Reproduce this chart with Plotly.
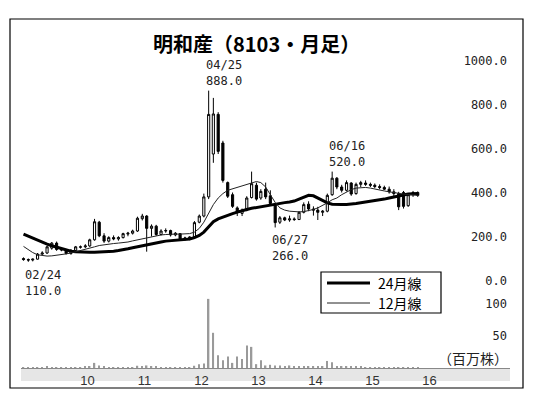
import pandas as pd
import plotly.graph_objects as go

months = pd.date_range("2009-01-01", periods=84, freq="MS")

open_ = [125, 120, 118, 122, 145, 150, 172, 195, 166, 162, 148, 162,
         176, 178, 182, 210, 290, 228, 204, 220, 214, 220, 236, 240,
         250, 306, 318, 262, 272, 234, 250, 252, 232, 238, 214, 218,
         222, 290, 318, 405, 600, 780, 650, 470, 415, 355, 330, 345,
         402, 458, 400, 440, 410, 368, 290, 310, 300, 305, 302, 335,
         372, 350, 345, 335, 340, 415, 490, 450, 435, 468, 420, 462,
         468, 462, 458, 452, 448, 440, 428, 420, 425, 365, 415, 425]
high = [130, 125, 125, 150, 158, 182, 200, 202, 172, 166, 168, 182,
        184, 190, 215, 305, 296, 240, 226, 230, 226, 242, 246, 256,
        315, 328, 322, 280, 278, 258, 262, 256, 245, 240, 224, 226,
        295, 325, 420, 888, 855, 790, 660, 475, 425, 362, 352, 408,
        520, 470, 440, 470, 435, 372, 318, 315, 320, 312, 340, 380,
        385, 362, 360, 345, 420, 520, 495, 460, 480, 472, 470, 478,
        480, 470, 466, 462, 456, 452, 440, 428, 432, 420, 432, 430]
low = [115, 110, 112, 120, 140, 146, 165, 160, 158, 143, 142, 158,
       170, 172, 178, 206, 222, 196, 198, 208, 206, 216, 226, 234,
       246, 298, 156, 225, 228, 230, 242, 225, 226, 205, 206, 208,
       218, 285, 312, 395, 560, 600, 470, 400, 355, 318, 318, 340,
       398, 388, 392, 395, 370, 266, 282, 295, 292, 296, 300, 330,
       340, 320, 300, 318, 335, 410, 440, 425, 430, 410, 415, 450,
       455, 450, 445, 440, 436, 420, 400, 345, 352, 360, 405, 405]
close = [120, 118, 122, 145, 150, 178, 195, 166, 164, 148, 162, 178,
         178, 182, 210, 292, 228, 204, 220, 214, 220, 238, 240, 250,
         308, 318, 262, 272, 234, 250, 252, 232, 240, 214, 218, 222,
         288, 318, 405, 780, 782, 612, 480, 408, 362, 335, 345, 400,
         465, 395, 430, 405, 375, 288, 310, 300, 305, 302, 335, 370,
         350, 345, 335, 340, 412, 490, 450, 435, 470, 418, 462, 470,
         462, 458, 452, 448, 440, 428, 420, 360, 362, 415, 425, 412]

ma24 = [236, 226, 216, 206, 198, 190, 183, 176, 169, 163, 158, 156,
        154, 153, 153, 153, 154, 154, 155, 158, 161, 164, 169, 174,
        179, 184, 188, 192, 196, 200, 204, 206, 208, 210, 211, 214,
        220, 230, 245, 268, 292, 305, 314, 322, 329, 336, 343, 348,
        353, 357, 361, 365, 370, 373, 376, 379, 382, 386, 395, 405,
        412, 410, 400, 388, 378, 372, 370, 370, 371, 372, 375, 378,
        381, 384, 387, 390, 395, 400, 405, 410, 414, 418, 419, 420]
ma12 = [180, 165, 152, 142, 138, 136, 137, 139, 142, 146, 150, 155,
        160, 166, 172, 178, 184, 188, 191, 193, 195, 197, 200, 205,
        210, 216, 220, 224, 228, 232, 234, 236, 236, 236, 236, 238,
        245, 262, 290, 330, 370, 400, 420, 435, 442, 448, 455, 462,
        470, 475, 470, 450, 415, 380, 355, 345, 340, 338, 337, 338,
        342, 348, 355, 365, 378, 392, 400, 415, 428, 438, 445, 448,
        448, 445, 440, 436, 432, 428, 424, 420, 418, 416, 414, 412]

volume = [1.5, 1.5, 1, 1.5, 1, 2, 1.5, 1, 1, 0.5, 0.5, 1,
          1, 2, 3, 8, 4, 2, 1.5, 1.5, 1, 1, 1, 1,
          3.5, 3, 4, 2, 2, 1.5, 1.5, 1, 1, 1, 1, 1.5,
          3.5, 6, 7, 108, 55, 20, 12, 18, 8, 18, 14, 35,
          33, 6, 12, 4, 5, 4, 4, 3, 4, 2, 2, 3,
          3, 2, 2, 3, 11, 9, 3, 2, 2, 2, 2, 2,
          1, 1, 1, 1, 1, 0.5, 1, 1, 1, 0.5, 0.5, 0.5]

year_ticks = ["2010-01-01", "2011-01-01", "2012-01-01", "2013-01-01",
              "2014-01-01", "2015-01-01", "2016-01-01"]
year_labels = ["10", "11", "12", "13", "14", "15", "16"]
price_ticks = [0, 200, 400, 600, 800, 1000]
price_labels = ["0.0", "200.0", "400.0", "600.0", "800.0", "1000.0"]
vol_ticks = [50, 100]
vol_labels = ["50", "100"]

title = "明和産（8103・月足）"
legend_names = ["24月線", "12月線"]
vol_unit = "（百万株）"

# extreme annotations: (month index, label date, value kind)
extremes = [(39, "04/25", "high"), (65, "06/16", "high"),
            (53, "06/27", "low"), (1, "02/24", "low")]

W, H = 545, 405
L, R, T, B = 21, 510, 30, 381
PW, PH = R - L, B - T

def py(px):
    return (B - px) / PH

def pxx(px):
    return (px - L) / PW

mono = "DejaVu Sans Mono"
cjk = "Noto Sans CJK JP"

fig = go.Figure()
fig.add_trace(go.Bar(x=months, y=volume, xaxis="x", yaxis="y2",
                     marker=dict(color="#9a9a9a", line=dict(width=0)),
                     width=86400000 * 9, showlegend=False, hoverinfo="skip"))
fig.add_trace(go.Scatter(x=months, y=ma24, mode="lines", name=legend_names[0],
                         line=dict(color="black", width=3), xaxis="x", yaxis="y",
                         showlegend=False))
fig.add_trace(go.Scatter(x=months, y=ma12, mode="lines", name=legend_names[1],
                         line=dict(color="#222222", width=1), xaxis="x", yaxis="y",
                         showlegend=False))
fig.add_trace(go.Candlestick(x=months, open=open_, high=high, low=low, close=close,
                             xaxis="x", yaxis="y", showlegend=False,
                             whiskerwidth=0,
                             increasing=dict(fillcolor="white", line=dict(color="black", width=1)),
                             decreasing=dict(fillcolor="black", line=dict(color="black", width=1))))

annotations = []
for idx, lab, kind in extremes:
    if kind == "high":
        val = high[idx]
        annotations.append(dict(x=months[idx], y=val, xref="x", yref="y",
                                text=f"{lab}<br>{val:.1f}", showarrow=False,
                                xanchor="left", yanchor="bottom", align="left",
                                xshift=-5, yshift=1,
                                font=dict(family=mono, size=12, color="#222")))
    else:
        val = low[idx]
        annotations.append(dict(x=months[idx], y=val, xref="x", yref="y",
                                text=f"{lab}<br>{val:.1f}", showarrow=False,
                                xanchor="left", yanchor="top", align="left",
                                xshift=-5, yshift=-4,
                                font=dict(family=mono, size=12, color="#222")))
annotations.append(dict(x=pxx(256), y=py(43), xref="paper", yref="paper",
                        text=title, showarrow=False, xanchor="center", yanchor="middle",
                        font=dict(family=cjk, size=20, color="black", weight="bold")))
annotations.append(dict(x=1, y=py(358), xref="paper", yref="paper",
                        text=vol_unit, showarrow=False, xanchor="right", yanchor="middle",
                        font=dict(family=cjk, size=14, color="#222")))

# legend (drawn as box, sample lines and labels)
leg_x0, leg_x1, leg_y0, leg_y1 = 321, 441, 272, 313
leg_rows = [(283, 3, "black"), (303, 1, "#222222")]
for (ry, lw, lc), name in zip(leg_rows, legend_names):
    annotations.append(dict(x=pxx(377), y=py(ry), xref="paper", yref="paper",
                            text=name, showarrow=False, xanchor="left", yanchor="middle",
                            borderpad=0,
                            font=dict(family=cjk, size=14, color="black")))

shapes = [
    dict(type="rect", xref="paper", yref="paper", x0=0, x1=1, y0=0, y1=py(368),
         fillcolor="#e6e6e6", line=dict(width=0), layer="below"),
    dict(type="rect", xref="paper", yref="paper", x0=pxx(10), x1=pxx(523),
         y0=py(388), y1=py(19), line=dict(color="black", width=1.2),
         fillcolor="rgba(0,0,0,0)"),
    dict(type="rect", xref="paper", yref="paper", x0=pxx(leg_x0), x1=pxx(leg_x1),
         y0=py(leg_y1), y1=py(leg_y0), line=dict(color="black", width=1.2),
         fillcolor="white", layer="above"),
]
for ry, lw, lc in leg_rows:
    shapes.append(dict(type="line", xref="paper", yref="paper", x0=pxx(327), x1=pxx(370),
                       y0=py(ry), y1=py(ry), line=dict(color=lc, width=lw)))

price_zero = 286
price_bottom = 300
price_scale = 0.22
vol_scale = 0.64
vol_base = 368

fig.update_layout(
    width=W, height=H,
    margin=dict(l=L, r=W - R, t=T, b=H - B),
    paper_bgcolor="white", plot_bgcolor="rgba(0,0,0,0)",
    showlegend=False,
    xaxis=dict(type="date", range=["2008-12-16", "2017-07-14"], anchor="y2",
               tickvals=year_ticks, ticktext=year_labels, ticks="",
               showgrid=False, zeroline=False, showline=True, linecolor="#888",
               linewidth=1, rangeslider=dict(visible=False), ticklabelshift=7,
               tickfont=dict(family="Liberation Sans Narrow, Liberation Sans", size=13, color="#333")),
    yaxis=dict(domain=[py(price_bottom), 1],
               range=[-(price_bottom - price_zero) / price_scale, (price_zero - T) / price_scale],
               side="right", ticklabelposition="inside", tickvals=price_ticks,
               ticktext=price_labels, showgrid=False, zeroline=False, showline=False,
               ticks="", ticklabelshift=-5,
               tickfont=dict(family=mono, size=12, color="#222")),
    yaxis2=dict(domain=[py(vol_base), py(price_zero)],
                range=[0, (vol_base - price_zero) / vol_scale],
                side="right", ticklabelposition="inside", tickvals=vol_ticks,
                ticktext=vol_labels, showgrid=False, zeroline=False, showline=False,
                ticks="", ticklabelshift=0,
                tickfont=dict(family=mono, size=12, color="#222")),
    annotations=annotations, shapes=shapes,
)

fig.write_html("out.html", config={"displayModeBar": False},
               post_script="document.body.style.margin='0';document.body.style.padding='0';")
